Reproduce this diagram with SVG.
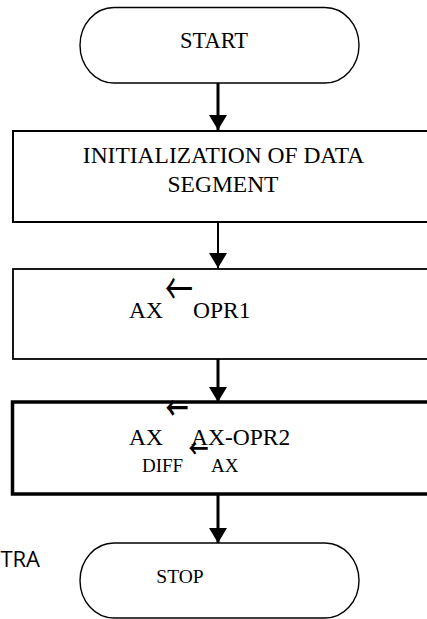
<svg xmlns="http://www.w3.org/2000/svg" width="427" height="619" viewBox="0 0 427 619">
<style>
.t{font-family:"Liberation Serif","Times New Roman",serif;fill:#000}
.ar{font-family:"Noto Sans CJK JP","DejaVu Sans",sans-serif;fill:#000;font-weight:normal}
.arb{font-family:"Noto Sans CJK JP","DejaVu Sans",sans-serif;fill:#000;font-weight:bold}
.term{fill:#fff;stroke:#000;stroke-width:1.4}
.box{fill:#fff;stroke:#000}
</style>
<defs>
<marker id="ah" markerWidth="18" markerHeight="16" refX="9" refY="15" orient="0" markerUnits="userSpaceOnUse" viewBox="0 0 18 16">
<path d="M0,0 L18,0 L9,15 Z" fill="#000"/>
</marker>
</defs>
<rect width="427" height="619" fill="#fff"/>
<g id="start">
<rect class="term" x="80" y="7.5" width="279" height="75.5" rx="34" ry="37.7"/>
<text class="t" x="214" y="48" font-size="22.5" text-anchor="middle">START</text>
</g>
<g id="init">
<rect class="box" x="13" y="131" width="430" height="91" stroke-width="2"/>
<text class="t" x="223.5" y="163" font-size="23.5" text-anchor="middle">INITIALIZATION OF DATA</text>
<text class="t" x="223" y="192" font-size="23.5" text-anchor="middle">SEGMENT</text>
</g>
<g id="load">
<rect class="box" x="13" y="269" width="430" height="90" stroke-width="1.8"/>
<text class="t" x="129" y="318" font-size="23.5">AX</text>
<text class="ar" transform="translate(179,288) scale(1,1.6)" x="0" y="10.6" font-size="28" text-anchor="middle">←</text>
<text class="t" x="193" y="318" font-size="23.5">OPR1</text>
</g>
<g id="sub">
<rect class="box" x="12.5" y="402" width="430" height="92" stroke-width="3.5"/>
<text class="t" x="129" y="445" font-size="23.5">AX</text>
<text class="arb" transform="translate(177,408) scale(1,1.4)" x="0" y="8.7" font-size="23" text-anchor="middle">←</text>
<text class="t" x="191" y="445" font-size="23.5">AX-OPR2</text>
<text class="t" x="142" y="472" font-size="19">DIFF</text>
<text class="arb" transform="translate(198.5,448) scale(1,1.3)" x="0" y="7.6" font-size="20" text-anchor="middle">←</text>
<text class="t" x="211" y="472" font-size="19">AX</text>
</g>
<g id="stop">
<rect class="term" x="80" y="543" width="279" height="75" rx="34" ry="37.5"/>
<text class="t" x="180" y="583" font-size="19.5" text-anchor="middle">STOP</text>
</g>
<text x="40" y="567" font-family="'Open Sans','Liberation Sans',sans-serif" font-size="22" text-anchor="end" fill="#000">TRA</text>
<g id="connectors" stroke="#000" fill="none">
<line x1="218" y1="83" x2="218" y2="130" stroke-width="3" marker-end="url(#ah)"/>
<line x1="218" y1="222" x2="218" y2="268" stroke-width="2" marker-end="url(#ah)"/>
<line x1="218" y1="359" x2="218" y2="402" stroke-width="3" marker-end="url(#ah)"/>
<line x1="218" y1="494" x2="218" y2="543" stroke-width="3" marker-end="url(#ah)"/>
</g>
</svg>
